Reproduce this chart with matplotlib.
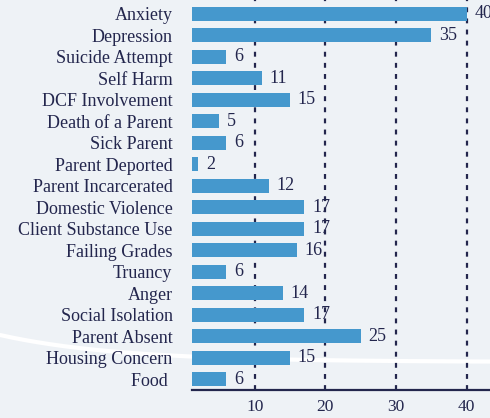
import numpy as np
import matplotlib
matplotlib.use("Agg")
import matplotlib.pyplot as plt
from matplotlib.lines import Line2D

categories = ["Anxiety", "Depression", "Suicide Attempt", "Self Harm", "DCF Involvement",
              "Death of a Parent", "Sick Parent", "Parent Deported", "Parent Incarcerated",
              "Domestic Violence", "Client Substance Use", "Failing Grades", "Truancy",
              "Anger", "Social Isolation", "Parent Absent", "Housing Concern", "Food "]
counts = [40, 35, 6, 11, 15, 5, 6, 2, 12, 17, 17, 16, 6, 14, 17, 25, 15, 6]
xticks = [10, 20, 30, 40]

BG = "#eef2f6"
BAR = "#4598cd"
INK = "#23264d"

plt.rcParams["font.family"] = ["Liberation Serif", "DejaVu Serif"]

W, H = 490, 418
fig = plt.figure(figsize=(W / 100, H / 100), dpi=100, facecolor=BG)

# decorative white swoosh behind the chart
xs = np.linspace(0, W, 200)
ys = 362 - 27 * np.exp(-xs / 120)
fig.add_artist(Line2D(xs / W, 1 - ys / H, color="white", lw=3, zorder=0,
                      transform=fig.transFigure))

ax = fig.add_axes([192 / W, 28 / H, 1 - 192 / W, 390 / H])
ax.patch.set_alpha(0)

n = len(categories)
ypos = np.arange(n)[::-1]
ax.barh(ypos, counts, height=0.65, color=BAR, zorder=2)
for y, v in zip(ypos, counts):
    ax.text(v + 1.1, y, str(v), va="center", ha="left", fontsize=13, color=INK, zorder=3)

for t in xticks:
    ax.axvline(t, color=INK, lw=1.6, ls=(0, (2.2, 2.8)), zorder=1)

ax.set_xlim(1.13, 43.3)
ax.set_ylim(-0.51, n - 1 + 0.65)
ax.set_yticks(ypos)
ax.set_yticklabels(categories, fontsize=13, color=INK)
ax.set_xticks(xticks)
ax.set_xticklabels([str(t) for t in xticks], fontsize=12.5, color=INK)
ax.tick_params(axis="y", length=0, pad=14)
ax.tick_params(axis="x", length=0, pad=6.5)
for s in ["top", "right", "left"]:
    ax.spines[s].set_visible(False)
ax.spines["bottom"].set_color(INK)
ax.spines["bottom"].set_linewidth(1.6)

fig.savefig("out.png", dpi=100, facecolor=BG)
